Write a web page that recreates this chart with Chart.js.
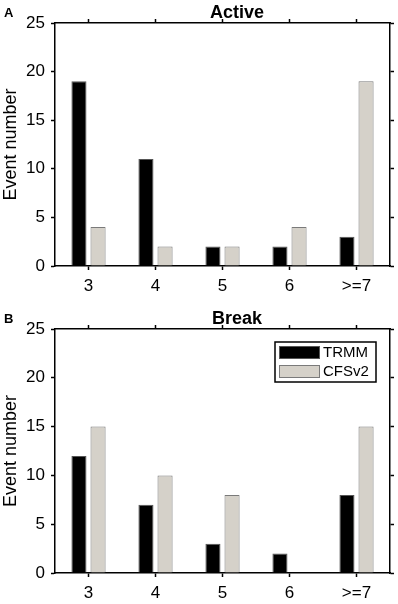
<!DOCTYPE html>
<html>
<head>
<meta charset="utf-8">
<script src="https://cdn.jsdelivr.net/npm/chart.js@4/dist/chart.umd.min.js"></script>
<style>
  html, body { margin: 0; padding: 0; background: #fff; }
  #wrap { width: 398px; height: 604px; position: relative; overflow: hidden; }
  canvas { display: block; }
</style>
</head>
<body>
<div id="wrap">
  <canvas id="cA" width="398" height="300"></canvas>
  <canvas id="cB" width="398" height="304"></canvas>
</div>
<script>
// ---- data ----
const categories = ['3', '4', '5', '6', '>=7'];
const seriesNames = ['TRMM', 'CFSv2'];
const activeTRMM = [19, 11, 2, 2, 3];
const activeCFSv2 = [4, 2, 2, 4, 19];
const breakTRMM = [12, 7, 3, 2, 8];
const breakCFSv2 = [15, 10, 8, 0, 15];
const yMin = 0, yMax = 25, yStep = 5;
const panelTitles = ['Active', 'Break'];
const panelLetters = ['A', 'B'];
const yAxisTitle = 'Event number';

const FONT = '"Liberation Sans", Arial, Helvetica, sans-serif';
Chart.defaults.font.family = FONT;
Chart.defaults.color = '#000';

const colors = {
  TRMM: { fill: '#000000', border: '#555555' },
  CFSv2: { fill: '#d5d1c9', border: '#7a7a7a' }
};

const decorPlugin = {
  id: 'decor',
  afterDraw(chart, args, opts) {
    const ctx = chart.ctx;
    const ca = chart.chartArea;
    ctx.save();
    // panel letter
    ctx.fillStyle = '#000';
    ctx.font = 'bold 13px ' + FONT;
    ctx.textAlign = 'left';
    ctx.textBaseline = 'middle';
    ctx.fillText(opts.letter, 4, ca.top - 10);
    // title
    ctx.font = 'bold 18px ' + FONT;
    ctx.textAlign = 'center';
    ctx.textBaseline = 'middle';
    ctx.fillText(opts.title, 237, ca.top - 10);
    // legend
    if (opts.legend) {
      const w = 101, h = 40;
      const lx = ca.right - 14 - w, ly = ca.top + 13;
      ctx.fillStyle = '#fff';
      ctx.fillRect(lx, ly, w, h);
      ctx.lineWidth = 1.5;
      ctx.strokeStyle = '#000';
      ctx.strokeRect(lx, ly, w, h);
      chart.data.datasets.forEach((ds, i) => {
        const sy = ly + 4 + i * 19;
        ctx.fillStyle = ds.backgroundColor;
        ctx.fillRect(lx + 4, sy, 41, 13);
        ctx.lineWidth = 1;
        ctx.strokeStyle = ds.borderColor;
        ctx.strokeRect(lx + 4.5, sy + 0.5, 40, 12);
        ctx.fillStyle = '#000';
        ctx.font = '15px ' + FONT;
        ctx.textAlign = 'left';
        ctx.textBaseline = 'middle';
        ctx.fillText(ds.label, lx + 48, sy + 7);
      });
    }
    ctx.restore();
  }
};

function makeChart(id, trmm, cfs, topPad, xAxisHeight, title, letter, legend) {
  const tickFont = { size: 17 };
  return new Chart(document.getElementById(id), {
    type: 'bar',
    data: {
      labels: categories,
      datasets: [
        { label: seriesNames[0], data: trmm, backgroundColor: colors.TRMM.fill, borderColor: colors.TRMM.border, borderWidth: 1, xAxisID: 'x', yAxisID: 'y' },
        { label: seriesNames[1], data: cfs, backgroundColor: colors.CFSv2.fill, borderColor: colors.CFSv2.border, borderWidth: 1, xAxisID: 'x', yAxisID: 'y' }
      ]
    },
    plugins: [decorPlugin],
    options: {
      responsive: false,
      maintainAspectRatio: false,
      devicePixelRatio: 1,
      animation: false,
      datasets: { bar: { categoryPercentage: 0.57, barPercentage: 0.79 } },
      layout: { padding: { top: topPad, right: 8, left: 0, bottom: 0 } },
      plugins: {
        legend: { display: false },
        tooltip: { enabled: false },
        title: { display: false },
        decor: { title: title, letter: letter, legend: legend }
      },
      scales: {
        x: {
          type: 'category',
          position: 'bottom',
          offset: true,
          grid: { offset: false, drawOnChartArea: false, drawTicks: true, tickLength: 4, tickColor: '#000', tickWidth: 1.5 },
          border: { color: '#000', width: 1.5 },
          ticks: { font: tickFont, color: '#000', padding: 6, maxRotation: 0 },
          afterFit: s => { s.height = xAxisHeight; }
        },
        x2: {
          type: 'category',
          labels: categories,
          position: 'top',
          offset: true,
          grid: { offset: false, drawOnChartArea: false, drawTicks: true, tickLength: 4, tickColor: '#000', tickWidth: 1.5 },
          border: { color: '#000', width: 1.5 },
          ticks: { display: false },
          afterFit: s => { s.height = 0; }
        },
        y: {
          position: 'left',
          min: yMin, max: yMax,
          ticks: { stepSize: yStep, font: tickFont, color: '#000', padding: 6 },
          grid: { drawOnChartArea: false, drawTicks: true, tickLength: 4, tickColor: '#000', tickWidth: 1.5 },
          border: { color: '#000', width: 1.5 },
          title: { display: true, text: yAxisTitle, font: { size: 18 }, color: '#000', padding: { top: 0, bottom: 0 } },
          afterFit: s => { s.width = 55; }
        },
        y2: {
          position: 'right',
          min: yMin, max: yMax,
          ticks: { stepSize: yStep, display: false },
          grid: { drawOnChartArea: false, drawTicks: true, tickLength: 4, tickColor: '#000', tickWidth: 1.5 },
          border: { color: '#000', width: 1.5 },
          afterFit: s => { s.width = 0; }
        }
      }
    }
  });
}

makeChart('cA', activeTRMM, activeCFSv2, 23, 34, panelTitles[0], panelLetters[0], false);
makeChart('cB', breakTRMM, breakCFSv2, 29, 31, panelTitles[1], panelLetters[1], true);
</script>
</body>
</html>
